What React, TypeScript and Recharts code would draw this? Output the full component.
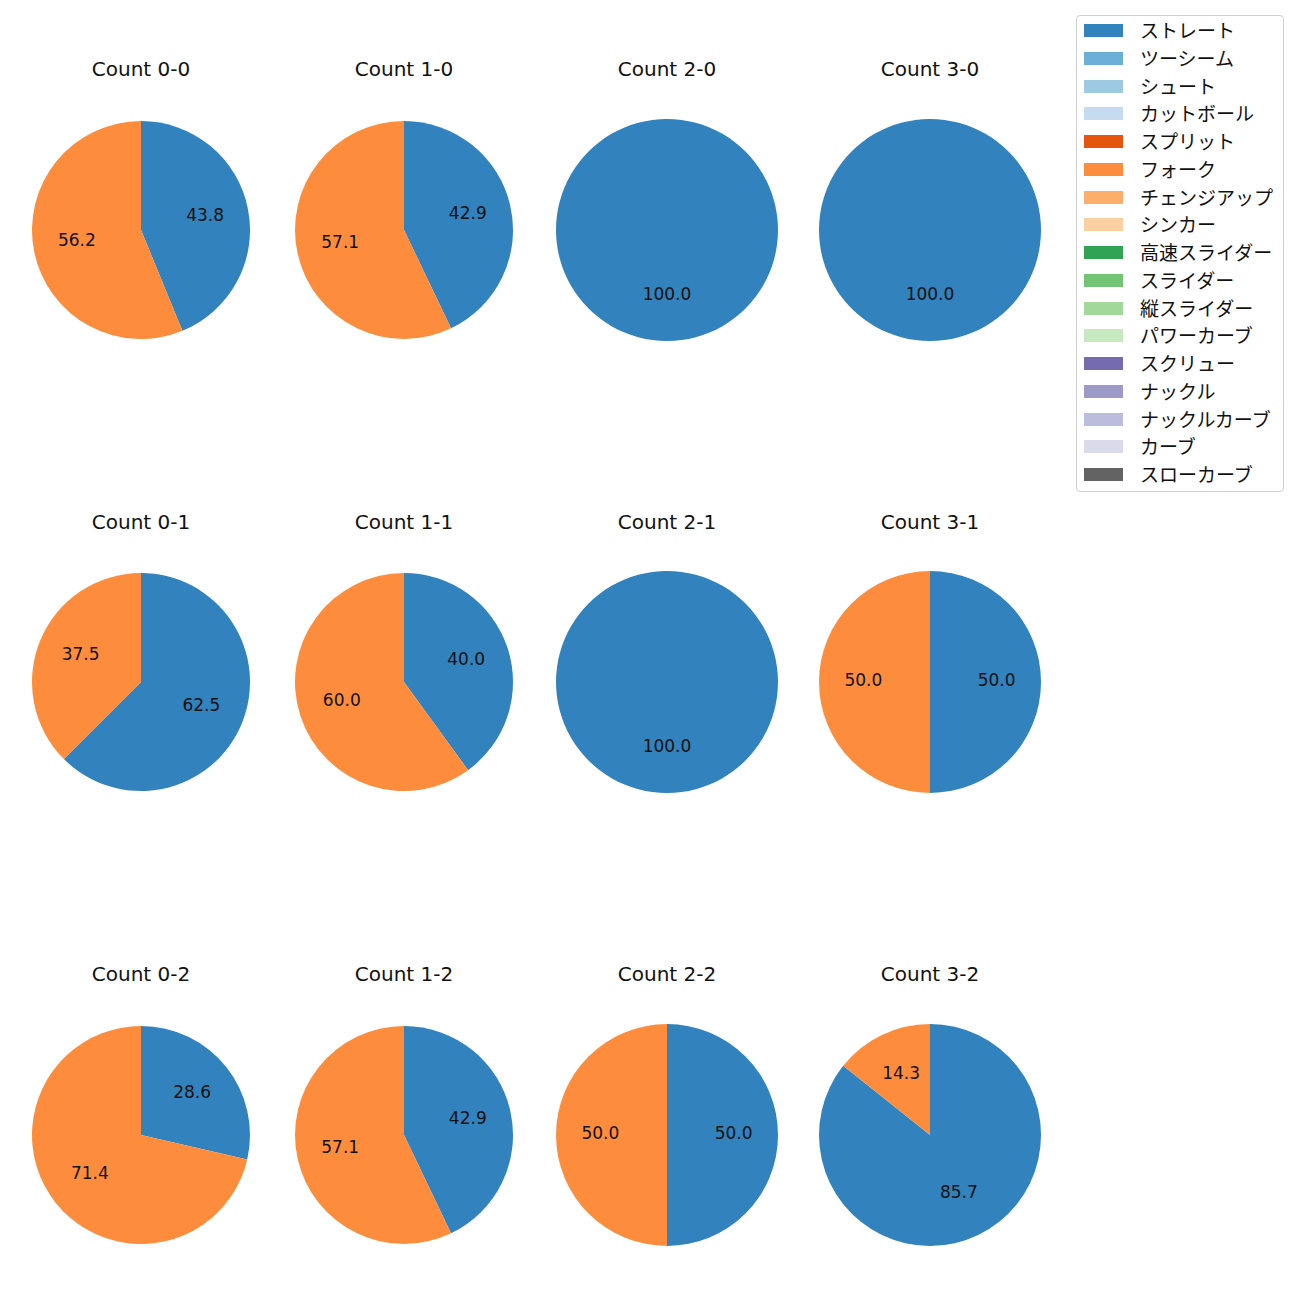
import React from "react";
import { PieChart, Pie, Cell } from "recharts";

const COUNTS = ["0-0", "1-0", "2-0", "3-0", "0-1", "1-1", "2-1", "3-1", "0-2", "1-2", "2-2", "3-2"];
const STRAIGHT = [43.8, 42.9, 100.0, 100.0, 62.5, 40.0, 100.0, 50.0, 28.6, 42.9, 50.0, 85.7];
const FORK = [56.2, 57.1, 0, 0, 37.5, 60.0, 0, 50.0, 71.4, 57.1, 50.0, 14.3];

const PITCH_NAMES = [
  "ストレート", "ツーシーム", "シュート", "カットボール", "スプリット", "フォーク",
  "チェンジアップ", "シンカー", "高速スライダー", "スライダー", "縦スライダー",
  "パワーカーブ", "スクリュー", "ナックル", "ナックルカーブ", "カーブ", "スローカーブ",
];
const PITCH_COLORS = [
  "#3182bd", "#6baed6", "#9ecae1", "#c6dbef", "#e6550d", "#fd8d3c",
  "#fdae6b", "#fdd0a2", "#31a354", "#74c476", "#a1d99b",
  "#c7e9c0", "#756bb1", "#9e9ac8", "#bcbddc", "#dadaeb", "#636363",
];

const FONT = "'DejaVu Sans', 'Noto Sans CJK JP', sans-serif";
const JP_FONT = "'Noto Sans CJK JP', sans-serif";
const COL_X = [141, 404, 667, 930];
const ROW_Y = [230, 682, 1135];
const TITLE_Y = [69, 522, 974];
const RADIUS = [109, 109, 111, 111];
const BOX = 240;
const RAD = Math.PI / 180;

const renderLabel = (p: any) => {
  const r = p.outerRadius * 0.6;
  const x = p.cx + r * Math.cos(-p.midAngle * RAD);
  const y = p.cy + r * Math.sin(-p.midAngle * RAD) - 2.5;
  return (
    <text x={x} y={y} textAnchor="middle" dominantBaseline="central" fill="#111" fontSize={17} fontFamily={FONT}>
      {Number(p.value).toFixed(1)}
    </text>
  );
};

function CountPie({ idx }: { idx: number }) {
  const col = idx % 4;
  const row = Math.floor(idx / 4);
  const data = [
    { name: PITCH_NAMES[0], value: STRAIGHT[idx], color: PITCH_COLORS[0] },
    { name: PITCH_NAMES[5], value: FORK[idx], color: PITCH_COLORS[5] },
  ].filter((d) => d.value > 0);

  return (
    <>
      <div
        style={{
          position: "absolute",
          left: COL_X[col] - 100,
          top: TITLE_Y[row] - 12,
          width: 200,
          height: 24,
          lineHeight: "24px",
          textAlign: "center",
          fontSize: 20,
          fontFamily: FONT,
          color: "#111",
        }}
      >
        Count {COUNTS[idx]}
      </div>
      <div style={{ position: "absolute", left: COL_X[col] - BOX / 2, top: ROW_Y[row] - BOX / 2 }}>
        <PieChart width={BOX} height={BOX} margin={{ top: 0, right: 0, bottom: 0, left: 0 }}>
          <Pie
            data={data}
            dataKey="value"
            nameKey="name"
            cx="50%"
            cy="50%"
            outerRadius={RADIUS[col]}
            startAngle={90}
            endAngle={-270}
            stroke="none"
            label={renderLabel}
            labelLine={false}
            isAnimationActive={false}
          >
            {data.map((d, i) => (
              <Cell key={i} fill={d.color} />
            ))}
          </Pie>
        </PieChart>
      </div>
    </>
  );
}

export default function App() {
  return (
    <div style={{ position: "absolute", left: 0, top: 0, width: 1300, height: 1300, background: "#fff", fontFamily: FONT }}>
      {COUNTS.map((_, i) => (
        <CountPie key={i} idx={i} />
      ))}
      <div
        style={{
          position: "absolute",
          left: 1076,
          top: 15,
          width: 208,
          height: 477,
          border: "1px solid #d0d0d0",
          borderRadius: 4,
          boxSizing: "border-box",
        }}
      >
        {PITCH_NAMES.map((n, i) => (
          <div key={n} style={{ position: "absolute", left: 0, top: 3 + i * 27.75, height: 22, width: 206 }}>
            <div style={{ position: "absolute", left: 7, top: 5, width: 39, height: 13, background: PITCH_COLORS[i] }} />
            <div style={{ position: "absolute", left: 63, top: 0, lineHeight: "22px", fontSize: 19, fontFamily: JP_FONT, color: "#111", whiteSpace: "nowrap" }}>
              {n}
            </div>
          </div>
        ))}
      </div>
    </div>
  );
}
